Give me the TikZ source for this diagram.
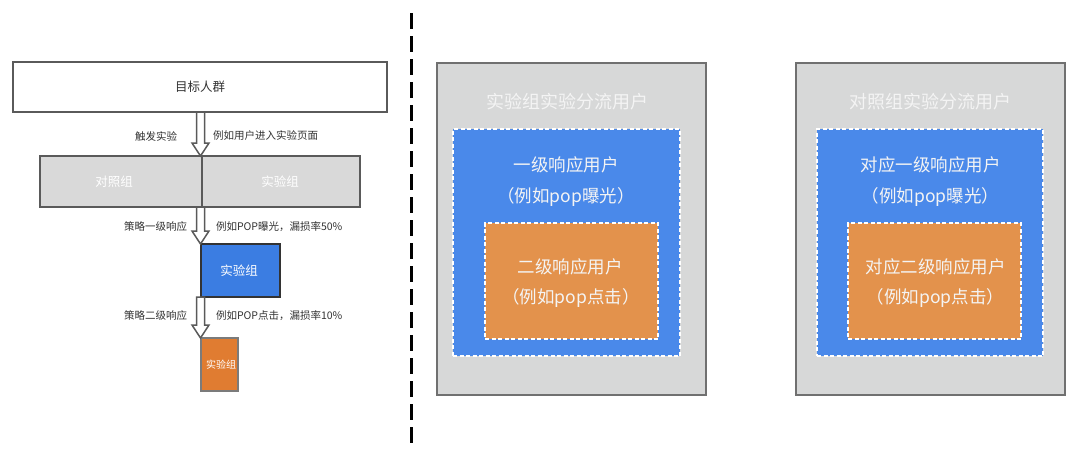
\documentclass[tikz,border=0pt]{standalone}
\usepackage{fontspec}
\setmainfont{Noto Sans CJK SC}
\usetikzlibrary{calc}
\definecolor{boxline}{HTML}{5A5A5A}
\definecolor{grayfill}{HTML}{D9D9D9}
\definecolor{panelfill}{HTML}{D7D8D8}
\definecolor{panelline}{HTML}{707070}
\definecolor{leftblue}{HTML}{3B7DE2}
\definecolor{leftorange}{HTML}{E07C31}
\definecolor{panelblue}{HTML}{4A89EA}
\definecolor{panelorange}{HTML}{E3924C}
\definecolor{labeltext}{HTML}{333333}
\definecolor{lighttext}{HTML}{F4F4F4}
\newcommand\hollowdown[3]{%
  \draw[hollowarrow] let \p1=(#2), \p2=(#3) in
    (#1pt-4pt,\y1) -- (#1pt-4pt,\y2+13pt) -- (#1pt-8.5pt,\y2+13pt) -- (#1pt,\y2)
    -- (#1pt+8.5pt,\y2+13pt) -- (#1pt+4pt,\y2+13pt) -- (#1pt+4pt,\y1) -- cycle;}
\begin{document}
\begin{tikzpicture}[x=1pt,y=-1pt,
  every node/.style={inner sep=0pt,outer sep=0pt},
  flowbox/.style={draw=boxline,line width=1.5pt,minimum height=#1},
  hollowarrow/.style={draw=boxline,fill=white,line width=1.5pt,line join=miter},
  arrowlabel/.style={text=labeltext,font=\fontsize{10.5}{12}\selectfont},
  boxtext/.style={font=\fontsize{12.5}{15}\selectfont},
  panel/.style={draw=panelline,fill=panelfill,line width=2pt},
  dashbox/.style={draw=white,line width=1.8pt,dash pattern=on 4pt off 2.5pt},
  paneltitle/.style={text=lighttext,font=\fontsize{18}{22}\selectfont},
  paneltext/.style={text=lighttext,font=\fontsize{17.5}{21}\selectfont},
  divider/.style={line width=3pt,dash pattern=on 16pt off 7pt}]
\useasboundingbox[fill=white] (0,0) rectangle (1080,450);

% ---------- left flow ----------
\node[flowbox=50pt,fill=white,minimum width=374pt] (target) at (200,87) {};
\node[boxtext,text=labeltext] (targett) at (200,87) {目标人群};
\node[flowbox=51pt,fill=grayfill,minimum width=162pt] (ctrl) at (121,181.5) {};
\node[flowbox=51pt,fill=grayfill,minimum width=158pt] (expt) at (281,181.5) {};
\node[boxtext,text=white] (ctrlt) at (114,181.5) {对照组};
\node[boxtext,text=white] (exptt) at (280,181.5) {实验组};
\node[flowbox=53pt,fill=leftblue,draw=labeltext,minimum width=79pt] (blue) at (240.5,270.5) {};
\node[boxtext,text=white] (bluet) at (239,270.5) {实验组};
\node[flowbox=53pt,fill=leftorange,draw=boxline!80,minimum width=37pt] (orange) at (219.5,364.5) {};
\node[text=white,font=\fontsize{10}{12}\selectfont] (oranget) at (221,364.5) {实验组};

\hollowdown{200.5}{target.south}{expt.north}
\hollowdown{200.5}{expt.south}{blue.north}
\hollowdown{200.5}{blue.south}{orange.north}

\node[arrowlabel,anchor=east] (l1a) at (177,136) {触发实验};
\node[arrowlabel,anchor=west] (l1b) at (213,136) {例如用户进入实验页面};
\node[arrowlabel,anchor=east] (l2a) at (187,227) {策略一级响应};
\node[arrowlabel,anchor=west] (l2b) at (216,227) {例如POP曝光，漏损率50\%};
\node[arrowlabel,anchor=east] (l3a) at (187,316) {策略二级响应};
\node[arrowlabel,anchor=west] (l3b) at (216,316) {例如POP点击，漏损率10\%};

% ---------- divider ----------
\coordinate (dtop) at (411,13);
\coordinate (dbot) at (411,447);
\draw[divider] (dtop) -- (dbot);

% ---------- panel 1 ----------
\node[panel,minimum width=269pt,minimum height=332pt] (p1) at (571.5,229) {};
\node[paneltitle] (p1t) at (567,102) {实验组实验分流用户};
\node[fill=panelblue,dashbox,minimum width=227pt,minimum height=227pt] (b1) at (566.5,242.5) {};
\node[paneltext] (b1t1) at (566,165) {一级响应用户};
\node[paneltext] (b1t2) at (566,197) {（例如pop曝光）};
\node[fill=panelorange,dashbox,minimum width=173pt,minimum height=116pt] (o1) at (571.5,281) {};
\node[paneltext] (o1t1) at (570,267) {二级响应用户};
\node[paneltext] (o1t2) at (571,298) {（例如pop点击）};

% ---------- panel 2 ----------
\node[panel,minimum width=269pt,minimum height=332pt] (p2) at (930.5,229) {};
\node[paneltitle] (p2t) at (930,102) {对照组实验分流用户};
\node[fill=panelblue,dashbox,minimum width=226pt,minimum height=227pt] (b2) at (930,242.5) {};
\node[paneltext] (b2t1) at (930.5,165) {对应一级响应用户};
\node[paneltext] (b2t2) at (930.5,197) {（例如pop曝光）};
\node[fill=panelorange,dashbox,minimum width=173pt,minimum height=116pt] (o2) at (934.5,281) {};
\node[paneltext] (o2t1) at (935.5,267) {对应二级响应用户};
\node[paneltext] (o2t2) at (935.5,298) {（例如pop点击）};
\end{tikzpicture}
\end{document}
